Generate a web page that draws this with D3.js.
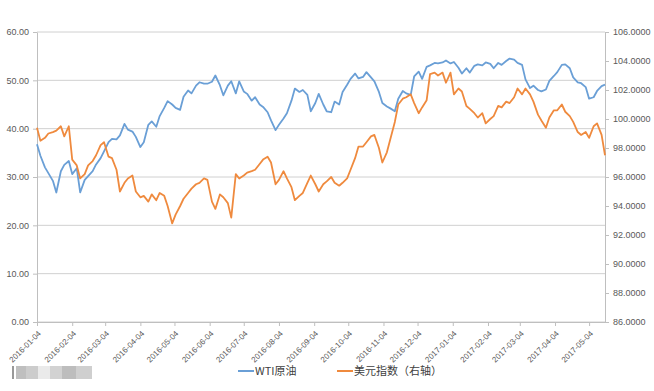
<!DOCTYPE html>
<html>
<head>
<meta charset="utf-8">
<script src="https://cdn.jsdelivr.net/npm/d3@7"></script>
<style>
  body { margin: 0; background: #fff; }
  svg { display: block; font-family: "Liberation Sans", Arial, sans-serif; }
</style>
</head>
<body>
<svg width="654" height="391"></svg>
<script>
// Dates (Mon / Thu)
const DATES = [
  "2016-01-04","2016-01-07","2016-01-11","2016-01-14","2016-01-18","2016-01-21","2016-01-25","2016-01-28",
  "2016-02-01","2016-02-04","2016-02-08","2016-02-11","2016-02-15","2016-02-18","2016-02-22","2016-02-25",
  "2016-02-29","2016-03-03","2016-03-07","2016-03-10","2016-03-14","2016-03-17","2016-03-21","2016-03-24",
  "2016-03-28","2016-03-31","2016-04-04","2016-04-07","2016-04-11","2016-04-14","2016-04-18","2016-04-21",
  "2016-04-25","2016-04-28","2016-05-02","2016-05-05","2016-05-09","2016-05-12","2016-05-16","2016-05-19",
  "2016-05-23","2016-05-26","2016-05-30","2016-06-02","2016-06-06","2016-06-09","2016-06-13","2016-06-16",
  "2016-06-20","2016-06-23","2016-06-27","2016-06-30","2016-07-04","2016-07-07","2016-07-11","2016-07-14",
  "2016-07-18","2016-07-21","2016-07-25","2016-07-28","2016-08-01","2016-08-04","2016-08-08","2016-08-11",
  "2016-08-15","2016-08-18","2016-08-22","2016-08-25","2016-08-29","2016-09-01","2016-09-05","2016-09-08",
  "2016-09-12","2016-09-15","2016-09-19","2016-09-22","2016-09-26","2016-09-29","2016-10-03","2016-10-06",
  "2016-10-10","2016-10-13","2016-10-17","2016-10-20","2016-10-24","2016-10-27","2016-10-31","2016-11-03",
  "2016-11-07","2016-11-10","2016-11-14","2016-11-17","2016-11-21","2016-11-24","2016-11-28","2016-12-01",
  "2016-12-05","2016-12-08","2016-12-12","2016-12-15","2016-12-19","2016-12-22","2016-12-26","2016-12-29",
  "2017-01-02","2017-01-05","2017-01-09","2017-01-12","2017-01-16","2017-01-19","2017-01-23","2017-01-26",
  "2017-01-30","2017-02-02","2017-02-06","2017-02-09","2017-02-13","2017-02-16","2017-02-20","2017-02-23",
  "2017-02-27","2017-03-02","2017-03-06","2017-03-09","2017-03-13","2017-03-16","2017-03-20","2017-03-23",
  "2017-03-27","2017-03-30","2017-04-03","2017-04-06","2017-04-10","2017-04-13","2017-04-17","2017-04-20",
  "2017-04-24","2017-04-27","2017-05-01","2017-05-04","2017-05-08","2017-05-11","2017-05-15","2017-05-18"
];

// WTI crude, left axis
const WTI = [
  36.8,34.4,32.0,30.8,29.2,26.8,31.2,32.5, 33.3,30.6,31.8,26.8,29.4,30.2,31.2,32.6,
  33.9,35.3,37.2,37.9,37.8,38.6,41.0,39.8, 39.4,38.3,36.2,37.2,40.8,41.5,40.4,42.6,
  44.3,45.7,45.0,44.3,43.9,46.6,47.9,47.3, 48.9,49.6,49.3,49.3,49.7,51.0,49.0,46.9,
  48.9,49.8,47.3,49.8,47.7,47.2,45.8,46.5, 45.0,44.5,43.4,41.7,39.7,40.8,42.1,43.2,
  45.8,48.3,47.6,48.0,47.0,43.6,45.3,47.2, 45.0,43.6,43.4,45.6,45.0,47.6,49.1,50.3,
  51.4,50.4,50.7,51.7,50.6,49.8,47.6,45.3, 44.6,44.2,43.6,46.2,47.8,47.3,47.0,50.8,
  51.8,50.3,52.8,53.1,53.6,53.5,53.7,54.1, 53.5,53.8,52.6,51.4,52.5,51.6,53.0,53.3,
  53.1,53.7,53.4,52.5,53.6,53.2,54.0,54.5, 54.3,53.6,53.2,50.2,48.4,48.9,48.0,47.7,
  48.1,49.9,50.9,51.7,53.2,53.3,52.5,50.6, 49.6,49.4,48.6,46.2,46.5,47.8,48.8,49.1
];

// US dollar index, right axis
const USD = [
  99.4,98.5,98.7,99.0,99.1,99.2,99.5,98.8, 99.5,97.2,96.8,95.9,96.2,96.8,97.1,97.5,
  98.2,98.4,97.4,97.3,96.5,95.0,95.6,95.9, 96.1,95.0,94.6,94.7,94.3,94.8,94.4,94.9,
  94.7,94.0,92.8,93.4,94.0,94.5,94.9,95.2, 95.5,95.6,95.9,95.8,94.3,93.8,94.8,94.6,
  94.2,93.2,96.2,95.9,96.1,96.3,96.4,96.5, 96.9,97.2,97.4,97.0,95.5,95.8,96.4,95.9,
  95.3,94.4,94.7,94.9,95.6,96.1,95.5,95.0, 95.5,95.7,96.0,95.6,95.4,95.6,95.9,96.5,
  97.3,98.1,98.1,98.4,98.8,98.9,98.0,97.0, 97.7,98.6,99.8,101.0,101.4,101.5,101.7,101.1,
  100.4,100.8,101.3,103.1,103.2,103.0,103.2,102.5, 103.2,101.7,102.1,101.9,100.9,100.7,100.4,100.1,
  100.4,99.7,100.0,100.2,100.9,100.8,101.2,101.1, 101.5,102.1,101.7,102.1,101.7,101.2,100.3,99.9,
  99.4,100.1,100.6,100.6,101.0,100.5,100.2,99.8, 99.1,98.9,99.1,98.7,99.5,99.7,98.9,97.5
];

const X_TICKS = [
  "2016-01-04","2016-02-04","2016-03-04","2016-04-04","2016-05-04","2016-06-04",
  "2016-07-04","2016-08-04","2016-09-04","2016-10-04","2016-11-04","2016-12-04",
  "2017-01-04","2017-02-04","2017-03-04","2017-04-04","2017-05-04"
];
const LEFT_TICKS = [0, 10, 20, 30, 40, 50, 60];
const RIGHT_TICKS = [86, 88, 90, 92, 94, 96, 98, 100, 102, 104, 106];
const LEGEND = ["WTI原油", "美元指数（右轴）"];

const parse = d3.timeParse("%Y-%m-%d");
const svg = d3.select("svg");

const plotLeft = 37, plotRight = 605, plotTop = 32, plotBottom = 322;

const xScale = d3.scaleTime()
  .domain(d3.extent(DATES, parse))
  .range([plotLeft, plotRight]);
const yLeft = d3.scaleLinear().domain([0, 60]).range([plotBottom, plotTop]);
const yRight = d3.scaleLinear().domain([86, 106]).range([plotBottom, plotTop]);

// gridlines
svg.append("g")
  .selectAll("line")
  .data(LEFT_TICKS)
  .join("line")
  .attr("x1", plotLeft).attr("x2", plotRight)
  .attr("y1", d => yLeft(d)).attr("y2", d => yLeft(d))
  .attr("stroke", "#d0d0d0")
  .attr("stroke-width", 1);

const styleAxis = g => {
  g.select(".domain").attr("stroke", "#bfbfbf");
  g.selectAll(".tick line").attr("stroke", "#bfbfbf");
  g.selectAll(".tick text").attr("fill", "#595959").attr("font-size", 9);
};

svg.append("g")
  .attr("transform", `translate(${plotLeft},0)`)
  .call(d3.axisLeft(yLeft).tickValues(LEFT_TICKS).tickFormat(d3.format(".2f")).tickSize(4).tickSizeOuter(0))
  .call(styleAxis)
  .call(g => g.selectAll(".tick text").attr("x", -8));

svg.append("g")
  .attr("transform", `translate(${plotRight},0)`)
  .call(d3.axisRight(yRight).tickValues(RIGHT_TICKS).tickFormat(d3.format(".4f")).tickSize(4).tickSizeOuter(0))
  .call(styleAxis)
  .call(g => g.selectAll(".tick text").attr("x", 8));

svg.append("g")
  .attr("transform", `translate(0,${plotBottom})`)
  .call(d3.axisBottom(xScale).tickValues(X_TICKS.map(parse)).tickFormat(d3.timeFormat("%Y-%m-%d")).tickSize(4).tickSizeOuter(0))
  .call(styleAxis)
  .call(g => g.selectAll(".tick text")
    .attr("font-size", 8)
    .attr("x", 0).attr("y", 0).attr("dy", "0.35em")
    .attr("text-anchor", "end")
    .attr("transform", "translate(2,10) rotate(-45)"));

// series
const wtiLine = d3.line()
  .x((d, i) => xScale(parse(DATES[i])))
  .y(d => yLeft(d));
const usdLine = d3.line()
  .x((d, i) => xScale(parse(DATES[i])))
  .y(d => yRight(d));

svg.append("path")
  .datum(WTI)
  .attr("d", wtiLine)
  .attr("fill", "none")
  .attr("stroke", "#6a9fd6")
  .attr("stroke-width", 1.8)
  .attr("stroke-linejoin", "round");

svg.append("path")
  .datum(USD)
  .attr("d", usdLine)
  .attr("fill", "none")
  .attr("stroke", "#ef8a3e")
  .attr("stroke-width", 1.8)
  .attr("stroke-linejoin", "round");

// legend
const legendItems = [
  { label: LEGEND[0], color: "#6a9fd6", x: 238 },
  { label: LEGEND[1], color: "#ef8a3e", x: 337 }
];
const legend = svg.append("g")
  .selectAll("g")
  .data(legendItems)
  .join("g")
  .attr("transform", d => `translate(${d.x},371)`);
legend.append("line")
  .attr("x1", 0).attr("x2", 16)
  .attr("stroke", d => d.color)
  .attr("stroke-width", 2);
legend.append("text")
  .attr("x", 17)
  .attr("dy", "0.35em")
  .attr("font-size", 11)
  .attr("font-family", "'Noto Sans CJK SC', 'Liberation Sans', sans-serif")
  .attr("fill", "#404040")
  .text(d => d.label);

// blurred watermark, bottom left
const blur = svg.append("g").attr("opacity", 0.75);
[[12, 2, "#777"], [16, 10, "#aaa"], [26, 12, "#bbb"], [38, 12, "#e4e4e4"], [50, 12, "#c4c4c4"], [62, 14, "#a8a8a8"], [76, 16, "#c0c0c0"]]
  .forEach(([bx, bw, c]) => blur.append("rect")
    .attr("x", bx).attr("y", 366).attr("width", bw).attr("height", 13).attr("fill", c));
</script>
</body>
</html>
